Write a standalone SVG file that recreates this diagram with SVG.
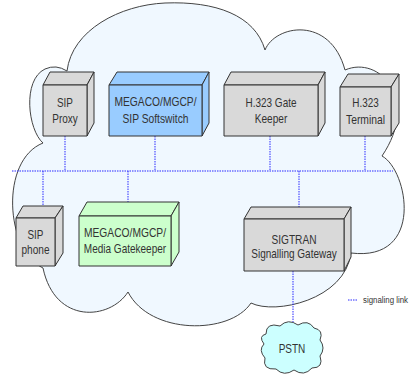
<svg xmlns="http://www.w3.org/2000/svg" width="418" height="375" viewBox="0 0 418 375">
<style>
.box{stroke:#333;stroke-width:1;stroke-linejoin:round}
.gray{fill:#d9d9d9}
.blue{fill:#99ccff}
.green{fill:#ccffcc}
.t{font-family:"Liberation Sans",Arial,sans-serif;font-size:13px;fill:#333;text-anchor:middle}
.link{stroke:#2b2bff;stroke-width:1;stroke-dasharray:1.5 1;fill:none}
.lg{font-family:"Liberation Sans",Arial,sans-serif;font-size:8.5px;fill:#333}
</style>
<rect width="418" height="375" fill="#fff"/>
<g id="cloud">
<path d="M43,268 C5,250 0,160 43,143 C28,130 22,80 45,69 Q56,64 67,71 C72,30 120,5 165,3 C215,1 255,15 265,50 C275,25 330,15 345,70 C380,55 420,100 382,156 C408,170 425,262 351,253 C345,300 275,315 251,303 C230,335 150,335 128,292 C110,320 55,325 43,268 Z" fill="#f0f8ff" stroke="#444" stroke-width="1"/>
</g>
<g id="connectors">
<path class="link" d="M12,171 H393 M65,136 V171 M155,136 V171 M270,136 V171 M365,136 V171 M43,171 V206 M128,171 V202 M299,171 V207 M293,271 V322"/>
</g>
<g id="sip-proxy">
<polygon class="box gray" points="43,85 50,72 94,72 87,85"/>
<polygon class="box gray" points="87,85 94,72 94,123 87,136"/>
<rect class="box gray" x="43" y="85" width="44" height="51"/>
<text class="t" x="65" y="107" textLength="16" lengthAdjust="spacingAndGlyphs">SIP</text>
<text class="t" x="65" y="123" textLength="25.5" lengthAdjust="spacingAndGlyphs">Proxy</text>
</g>
<g id="softswitch">
<polygon class="box blue" points="109,85 117,72 209,72 202,85"/>
<polygon class="box blue" points="202,85 209,72 209,123 202,136"/>
<rect class="box blue" x="109" y="85" width="93" height="51"/>
<text class="t" x="155.5" y="106" textLength="82" lengthAdjust="spacingAndGlyphs">MEGACO/MGCP/</text>
<text class="t" x="155.5" y="122.5" textLength="66" lengthAdjust="spacingAndGlyphs">SIP Softswitch</text>
</g>
<g id="h323-gatekeeper">
<polygon class="box gray" points="224,85 231,72 325,72 318,85"/>
<polygon class="box gray" points="318,85 325,72 325,123 318,136"/>
<rect class="box gray" x="224" y="85" width="94" height="51"/>
<text class="t" x="271" y="106.5" textLength="51" lengthAdjust="spacingAndGlyphs">H.323 Gate</text>
<text class="t" x="271" y="122.5" textLength="32.5" lengthAdjust="spacingAndGlyphs">Keeper</text>
</g>
<g id="h323-terminal">
<polygon class="box gray" points="340,87 348,74 399,74 391,87"/>
<polygon class="box gray" points="391,87 399,74 399,123 391,136"/>
<rect class="box gray" x="340" y="87" width="51" height="49"/>
<text class="t" x="365.5" y="107" textLength="26.5" lengthAdjust="spacingAndGlyphs">H.323</text>
<text class="t" x="365.5" y="123.5" textLength="39" lengthAdjust="spacingAndGlyphs">Terminal</text>
</g>
<g id="sip-phone">
<polygon class="box gray" points="16,218 23,206 63,206 55,218"/>
<polygon class="box gray" points="55,218 63,206 63,253 55,266"/>
<rect class="box gray" x="16" y="218" width="39" height="48"/>
<text class="t" x="35.5" y="239" textLength="16" lengthAdjust="spacingAndGlyphs">SIP</text>
<text class="t" x="35.5" y="253.5" textLength="28" lengthAdjust="spacingAndGlyphs">phone</text>
</g>
<g id="media-gatekeeper">
<polygon class="box green" points="79,216 87,202 179,202 171,216"/>
<polygon class="box green" points="171,216 179,202 179,252 171,266"/>
<rect class="box green" x="79" y="216" width="92" height="50"/>
<text class="t" x="125" y="236.5" textLength="82" lengthAdjust="spacingAndGlyphs">MEGACO/MGCP/</text>
<text class="t" x="125" y="253" textLength="82.3" lengthAdjust="spacingAndGlyphs">Media Gatekeeper</text>
</g>
<g id="sigtran">
<polygon class="box gray" points="244,219 251,207 351,207 344,219"/>
<polygon class="box gray" points="344,219 351,207 351,257 344,271"/>
<rect class="box gray" x="244" y="219" width="100" height="52"/>
<text class="t" x="294" y="244" textLength="45" lengthAdjust="spacingAndGlyphs">SIGTRAN</text>
<text class="t" x="294" y="257.5" textLength="85.5" lengthAdjust="spacingAndGlyphs">Signalling Gateway</text>
</g>
<g id="pstn">
<path d="M266,334 Q266,322 280,326 Q288,318 298,325 Q308,319 314,328 Q324,330 320,340 Q326,348 320,356 Q324,368 312,368 Q304,377 294,370 Q284,377 276,369 Q262,370 265,358 Q258,350 264,344 Q258,336 266,334 Z" fill="#ccffff" stroke="#444" stroke-width="1"/>
<text class="t" x="292" y="353" textLength="26.7" lengthAdjust="spacingAndGlyphs">PSTN</text>
</g>
<g id="legend">
<line class="link" x1="348" y1="300" x2="358" y2="300"/>
<text class="lg" x="363" y="303" textLength="45" lengthAdjust="spacingAndGlyphs">signaling link</text>
</g>
</svg>
